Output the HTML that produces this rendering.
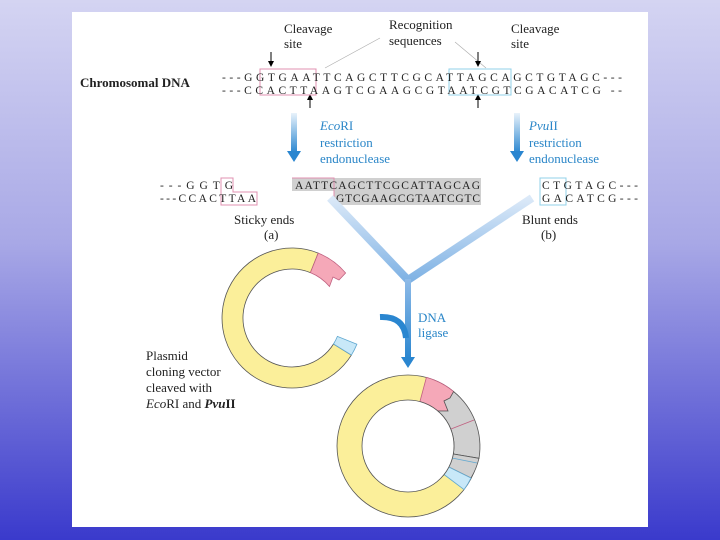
<!DOCTYPE html>
<html><head><style>
body{margin:0;width:720px;height:540px;overflow:hidden;background:linear-gradient(#d4d4f2 0%,#a8a8e6 45%,#3a3acc 100%);}
svg{position:absolute;left:0;top:0}
text{font-family:"Liberation Serif",serif;fill:#222}
.s{font-size:11.5px}
.b{fill:#2a86c8}
</style></head><body>
<svg width="720" height="540" viewBox="0 0 720 540">
<defs>
<linearGradient id="ag" x1="0" y1="0" x2="0" y2="1"><stop offset="0" stop-color="#e8f2fb"/><stop offset="1" stop-color="#2a86d0"/></linearGradient>
<linearGradient id="yg" x1="0" y1="0" x2="0" y2="1"><stop offset="0" stop-color="#dbe9f8"/><stop offset="1" stop-color="#7fb2e4"/></linearGradient>
<linearGradient id="dg" x1="0" y1="0" x2="0" y2="1"><stop offset="0" stop-color="#8fbbe8"/><stop offset="1" stop-color="#2a86d0"/></linearGradient>
</defs>
<rect x="72" y="12" width="576" height="515" fill="#fff"/>
<text x="284" y="33" font-size="13">Cleavage</text>
<text x="284" y="48" font-size="13">site</text>
<text x="389" y="29" font-size="13">Recognition</text>
<text x="389" y="45" font-size="13">sequences</text>
<text x="511" y="33" font-size="13">Cleavage</text>
<text x="511" y="48" font-size="13">site</text>
<line x1="325" y1="68" x2="380" y2="38" stroke="#aaa" stroke-width="0.6"/>
<line x1="455" y1="42" x2="486" y2="68" stroke="#aaa" stroke-width="0.6"/>
<line x1="271" y1="52" x2="271" y2="62" stroke="#000"/><polygon points="268,61 274,61 271,67" fill="#000"/>
<line x1="478" y1="52" x2="478" y2="62" stroke="#000"/><polygon points="475,61 481,61 478,67" fill="#000"/>
<line x1="310" y1="100" x2="310" y2="108" stroke="#000"/><polygon points="307,100 313,100 310,94" fill="#000"/>
<line x1="478" y1="100" x2="478" y2="108" stroke="#000"/><polygon points="475,100 481,100 478,94" fill="#000"/>
<text x="80" y="87" font-size="13" font-weight="bold">Chromosomal DNA</text>
<rect x="260" y="69" width="56" height="26" fill="none" stroke="#e090b0" stroke-width="1"/>
<rect x="449" y="69" width="62" height="26" fill="none" stroke="#90d0e8" stroke-width="1"/>
<text class="s" x="222" y="81" textLength="400" lengthAdjust="spacing">---GGTGAATTCAGCTTCGCATTAGCAGCTGTAGC---</text>
<text class="s" x="222" y="94" textLength="400" lengthAdjust="spacing">---CCACTTAAGTCGAAGCGTAATCGTCGACATCG --</text>
<rect x="291" y="113" width="6" height="40" fill="url(#ag)"/><polygon points="287,151 301,151 294,162" fill="#2a86d0"/>
<rect x="514" y="113" width="6" height="40" fill="url(#ag)"/><polygon points="510,151 524,151 517,162" fill="#2a86d0"/>
<text class="b" x="320" y="130" font-size="13"><tspan font-style="italic">Eco</tspan>RI</text>
<text class="b" x="320" y="147" font-size="13">restriction</text>
<text class="b" x="320" y="163" font-size="13">endonuclease</text>
<text class="b" x="529" y="130" font-size="13"><tspan font-style="italic">Pvu</tspan>II</text>
<text class="b" x="529" y="147" font-size="13">restriction</text>
<text class="b" x="529" y="163" font-size="13">endonuclease</text>
<rect x="292" y="178" width="189" height="13" fill="#d0d0d0"/>
<rect x="334" y="191" width="147" height="14" fill="#d0d0d0"/>
<path d="M221,178 H233 V192 H257 V205 H221 Z" fill="none" stroke="#e090b0"/>
<path d="M292,178 H334 V205 H334" fill="none" stroke="#e090b0"/>
<rect x="540" y="178" width="26" height="27" fill="none" stroke="#90d0e8"/>
<text class="s" x="160" y="189" textLength="73" lengthAdjust="spacing">---GGTG</text>
<text class="s" x="160" y="202" textLength="96" lengthAdjust="spacing">---CCACTTAA</text>
<text class="s" x="295" y="189" textLength="185" lengthAdjust="spacing">AATTCAGCTTCGCATTAGCAG</text>
<text class="s" x="336" y="202" textLength="144" lengthAdjust="spacing">GTCGAAGCGTAATCGTC</text>
<text class="s" x="542" y="189" textLength="96" lengthAdjust="spacing">CTGTAGC---</text>
<text class="s" x="542" y="202" textLength="96" lengthAdjust="spacing">GACATCG---</text>
<text x="234" y="224" font-size="13">Sticky ends</text>
<text x="264" y="239" font-size="13">(a)</text>
<text x="522" y="224" font-size="13">Blunt ends</text>
<text x="541" y="239" font-size="13">(b)</text>
<polyline points="330,198 408,280 532,198" fill="none" stroke="url(#yg)" stroke-width="8"/>
<rect x="405" y="279" width="6" height="80" fill="url(#dg)"/>
<polygon points="401,357 415,357 408,368" fill="#2a86d0"/>
<path d="M380,317 Q404,316 406,338" fill="none" stroke="#2a86d0" stroke-width="6"/>
<text class="b" x="418" y="322" font-size="13">DNA</text>
<text class="b" x="418" y="337" font-size="13">ligase</text>
<g transform="translate(292,318)" stroke="#555" stroke-width="0.8">
<path d="M59.4,37.1 A70,70 0 1 1 26.2,-64.9 L18.4,-45.4 A49,49 0 1 0 41.5,26 Z" fill="#fbef9a"/>
<path d="M26.2,-64.9 A70,70 0 0 1 53.6,-45 L47,-38 L41,-41 L37.5,-31.5 A49,49 0 0 0 18.4,-45.4 Z" fill="#f5a8b8" stroke="#c06080"/>
<path d="M64.9,26.2 A70,70 0 0 1 59.4,37.1 L41.5,26 A49,49 0 0 0 45.4,18.4 Z" fill="#c8e8f8" stroke="#60a8d0"/>
</g>
<text x="146" y="360" font-size="13">Plasmid</text>
<text x="146" y="376" font-size="13">cloning vector</text>
<text x="146" y="392" font-size="13">cleaved with</text>
<text x="146" y="408" font-size="13"><tspan font-style="italic">Eco</tspan>RI and <tspan font-style="italic" font-weight="bold">Pvu</tspan><tspan font-weight="bold">II</tspan></text>
<g transform="translate(408,446)" stroke="#555" stroke-width="0.8">
<circle r="71" fill="#fbef9a"/>
<path d="M18.4,-68.6 A71,71 0 0 1 45.6,-54.4 L42,-48 L36,-45 L40,-35 L30,-35 A46,46 0 0 0 11.9,-44.4 Z" fill="#f5a8b8" stroke="#c06080"/>
<path d="M45.6,-54.4 A71,71 0 0 1 71,12.3 L45.3,8 A46,46 0 0 0 30,-35 L40,-35 L36,-45 L42,-48 Z" fill="#d0d0d0"/>
<path d="M71,12.3 A71,71 0 0 1 63,32 L40.8,21 A46,46 0 0 0 45.3,8 Z" fill="#d0d0d0"/>
<path d="M63,32 A71,71 0 0 1 56,43.6 L36,28.5 A46,46 0 0 0 40.8,21 Z" fill="#c8e8f8" stroke="#60a8d0"/>
<line x1="66" y1="-26" x2="43" y2="-17" stroke="#c06080"/>
<line x1="69" y1="17" x2="44" y2="12" stroke="#60a8d0"/>
<circle r="46" fill="#fff"/>
</g>
</svg>
</body></html>
